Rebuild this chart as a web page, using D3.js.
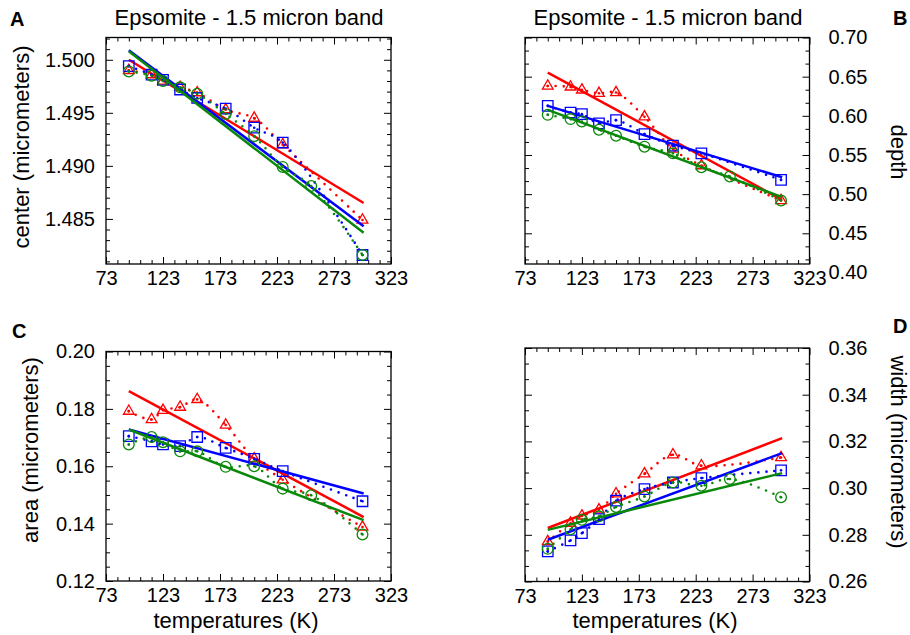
<!DOCTYPE html>
<html><head><meta charset="utf-8">
<script src="https://cdn.jsdelivr.net/npm/d3@7"></script>
<style>
body{margin:0;background:#fff;}
svg{display:block;font-family:"Liberation Sans",Arial,Helvetica,sans-serif;}
</style></head><body>
<svg id="chart" width="910" height="635"></svg>
<script>
// ---------------- DATA ----------------
const tempsGreen = [93, 113, 123, 138, 153, 178, 203, 228, 253, 298];
const tempsRedBlue = [93, 113, 123, 138, 153, 178, 203, 228, 298];
const fitTemps = [93, 299];

const centerRed   = [1.4990, 1.4986, 1.4980, 1.4974, 1.4969, 1.4953, 1.4945, 1.4920, 1.4849];
const centerBlue  = [1.4994, 1.4986, 1.4981, 1.4972, 1.4964, 1.4954, 1.4936, 1.4922, 1.4816];
const centerGreen = [1.4989, 1.4985, 1.4980, 1.4974, 1.4968, 1.4949, 1.4928, 1.4899, 1.4881, 1.4816];
const centerFitRed = [1.5000, 1.4865];
const centerFitBlue = [1.5009, 1.4843];
const centerFitGreen = [1.5008, 1.4837];

const depthRed   = [0.6381, 0.6369, 0.6331, 0.6288, 0.6297, 0.5987, 0.5576, 0.5364, 0.4919];
const depthBlue  = [0.6127, 0.6042, 0.6021, 0.5903, 0.5945, 0.5767, 0.5619, 0.5521, 0.5182];
const depthGreen = [0.6013, 0.5958, 0.5928, 0.5822, 0.5746, 0.5606, 0.5521, 0.5343, 0.5225, 0.4919];
const depthFitRed = [0.6551, 0.4928];
const depthFitBlue = [0.6127, 0.5216];
const depthFitGreen = [0.6076, 0.4962];

const areaRed   = [0.1792, 0.1763, 0.1795, 0.1806, 0.1833, 0.1744, 0.1626, 0.1553, 0.1388];
const areaBlue  = [0.1705, 0.1687, 0.1676, 0.1670, 0.1702, 0.1664, 0.1626, 0.1583, 0.1478];
const areaGreen = [0.1676, 0.1702, 0.1684, 0.1652, 0.1652, 0.1598, 0.1600, 0.1522, 0.1499, 0.1362];
const areaFitRed = [0.1862, 0.1423];
const areaFitBlue = [0.1728, 0.1505];
const areaFitGreen = [0.1728, 0.1412];

const widthRed   = [0.2771, 0.2850, 0.2881, 0.2907, 0.2976, 0.3061, 0.3143, 0.3096, 0.3131];
const widthBlue  = [0.2729, 0.2776, 0.2807, 0.2867, 0.2946, 0.2996, 0.3024, 0.3043, 0.3076];
const widthGreen = [0.2740, 0.2824, 0.2864, 0.2879, 0.2919, 0.2964, 0.3024, 0.3010, 0.3039, 0.2961];
const widthFitRed = [0.2829, 0.3214];
const widthFitBlue = [0.2779, 0.3150];
const widthFitGreen = [0.2821, 0.3064];

// tick labels
const xTickValues = [73, 123, 173, 223, 273, 323];
const centerTicks = [1.485, 1.490, 1.495, 1.500];
const depthTicks = [0.40, 0.45, 0.50, 0.55, 0.60, 0.65, 0.70];
const areaTicks = [0.12, 0.14, 0.16, 0.18, 0.20];
const widthTicks = [0.26, 0.28, 0.30, 0.32, 0.34, 0.36];

const titleText = "Epsomite - 1.5 micron band";
const xTitle = "temperatures (K)";

// ---------------- DRAW ----------------
const svg = d3.select("#chart");
const COL = {red: "#ff0000", blue: "#0000ff", green: "#0a880a"};
const xDomain = [73, 323];

const panels = [
  {id:"A", x0:106, x1:391, y0:37.5, y1:264, yDomain:[1.48075, 1.5021], ticks:centerTicks, fmt:".3f",
   minorBase:1.480, minorStep:0.001, side:"left",
   red:centerRed, blue:centerBlue, green:centerGreen,
   fr:centerFitRed, fb:centerFitBlue, fg:centerFitGreen},
  {id:"B", x0:525, x1:809.5, y0:37.5, y1:264, yDomain:[0.4108, 0.70], ticks:depthTicks, fmt:".2f",
   minorBase:0.40, minorStep:0.05/3, side:"right",
   red:depthRed, blue:depthBlue, green:depthGreen,
   fr:depthFitRed, fb:depthFitBlue, fg:depthFitGreen},
  {id:"C", x0:106, x1:391, y0:351.5, y1:581, yDomain:[0.12, 0.20], ticks:areaTicks, fmt:".2f",
   minorBase:0.12, minorStep:0.005, side:"left",
   red:areaRed, blue:areaBlue, green:areaGreen,
   fr:areaFitRed, fb:areaFitBlue, fg:areaFitGreen},
  {id:"D", x0:525, x1:809.5, y0:348, y1:581.5, yDomain:[0.26, 0.36], ticks:widthTicks, fmt:".2f",
   minorBase:0.26, minorStep:0.02/3, side:"right",
   red:widthRed, blue:widthBlue, green:widthGreen,
   fr:widthFitRed, fb:widthFitBlue, fg:widthFitGreen}
];

function styleAxis(sel, fontSize, dom) {
  sel.select(".domain").remove();
  sel.attr("font-family", null).attr("font-size", null);
  sel.selectAll("line").attr("stroke", "#000").attr("stroke-width", 1);
  sel.selectAll("text").attr("fill", "#000").style("font-size", fontSize + "px");
  if (dom) {
    sel.selectAll(".tick").filter(d => d < dom[0] - 1e-9 || d > dom[1] + 1e-9)
      .select("line").remove();
  }
}

panels.forEach(p => {
  const g = svg.append("g");
  const x = d3.scaleLinear().domain(xDomain).range([p.x0, p.x1]);
  const y = d3.scaleLinear().domain(p.yDomain).range([p.y1, p.y0]);

  const xMinor = d3.range(83, 323, 10).filter(v => !xTickValues.includes(v));
  const yMinor = [];
  for (let k = 1; k < 200; k++) {
    const v = p.minorBase + k * p.minorStep;
    if (v >= p.yDomain[1]) break;
    if (v <= p.yDomain[0]) continue;
    if (p.ticks.some(t => Math.abs(t - v) < p.minorStep / 10)) continue;
    yMinor.push(v);
  }
  const yMajorAll = p.ticks;

  // bottom
  g.append("g").attr("transform", `translate(0,${p.y1})`)
    .call(d3.axisBottom(x).tickValues(xTickValues).tickSize(-7).tickPadding(7).tickFormat(d3.format("d")))
    .call(s => styleAxis(s, 20));
  g.append("g").attr("transform", `translate(0,${p.y1})`)
    .call(d3.axisBottom(x).tickValues(xMinor).tickSize(-4).tickFormat(""))
    .call(s => styleAxis(s, 20));
  // top
  g.append("g").attr("transform", `translate(0,${p.y0})`)
    .call(d3.axisTop(x).tickValues(xTickValues).tickSize(-7).tickFormat(""))
    .call(s => styleAxis(s, 20));
  g.append("g").attr("transform", `translate(0,${p.y0})`)
    .call(d3.axisTop(x).tickValues(xMinor).tickSize(-4).tickFormat(""))
    .call(s => styleAxis(s, 20));
  // left / right
  const labLeft = p.side === "left";
  g.append("g").attr("transform", `translate(${p.x0},0)`)
    .call(d3.axisLeft(y).tickValues(yMajorAll).tickSize(-7).tickPadding(11)
      .tickFormat(labLeft ? d3.format(p.fmt) : ""))
    .call(s => styleAxis(s, 20, p.yDomain));
  g.append("g").attr("transform", `translate(${p.x0},0)`)
    .call(d3.axisLeft(y).tickValues(yMinor).tickSize(-4).tickFormat(""))
    .call(s => styleAxis(s, 20));
  g.append("g").attr("transform", `translate(${p.x1},0)`)
    .call(d3.axisRight(y).tickValues(yMajorAll).tickSize(-7).tickPadding(19)
      .tickFormat(labLeft ? "" : d3.format(p.fmt)))
    .call(s => styleAxis(s, 20, p.yDomain));
  g.append("g").attr("transform", `translate(${p.x1},0)`)
    .call(d3.axisRight(y).tickValues(yMinor).tickSize(-4).tickFormat(""))
    .call(s => styleAxis(s, 20));

  // frame
  g.append("rect").attr("x", p.x0).attr("y", p.y0)
    .attr("width", p.x1 - p.x0).attr("height", p.y1 - p.y0)
    .attr("fill", "none").attr("stroke", "#000").attr("stroke-width", 1.3);

  const series = [
    {c: COL.red, t: tempsRedBlue, v: p.red, f: p.fr, sym: d3.symbolTriangle, size: 50},
    {c: COL.blue, t: tempsRedBlue, v: p.blue, f: p.fb, sym: d3.symbolSquare, size: 110},
    {c: COL.green, t: tempsGreen, v: p.green, f: p.fg, sym: d3.symbolCircle, size: 90}
  ];

  const dotted = d3.line().x(d => x(d[0])).y(d => y(d[1])).curve(d3.curveCatmullRom.alpha(0.5));
  const straight = d3.line().x(d => x(d[0])).y(d => y(d[1]));

  series.forEach(s => {
    const pts = s.t.map((t, i) => [t, s.v[i]]);
    g.append("path").attr("d", dotted(pts)).attr("fill", "none")
      .attr("stroke", s.c).attr("stroke-width", 2.6)
      .attr("stroke-dasharray", "0,8").attr("stroke-linecap", "round");
    g.append("path").attr("d", straight(fitTemps.map((t, i) => [t, s.f[i]])))
      .attr("fill", "none").attr("stroke", s.c).attr("stroke-width", 2.5);
    g.selectAll(null).data(pts).enter().append("path")
      .attr("transform", d => `translate(${x(d[0])},${y(d[1])})`)
      .attr("d", d3.symbol(s.sym, s.size))
      .attr("fill", "none").attr("stroke", s.c).attr("stroke-width", 1.3);
    g.selectAll(null).data(pts).enter().append("circle")
      .attr("cx", d => x(d[0])).attr("cy", d => y(d[1])).attr("r", 1.3)
      .attr("fill", s.c);
  });
});

// texts
function txt(xp, yp, s, size, opts = {}) {
  const t = svg.append("text").attr("x", xp).attr("y", yp).text(s)
    .style("font-size", size + "px").attr("fill", "#000")
    .attr("text-anchor", opts.anchor || "middle");
  if (opts.bold) t.attr("font-weight", "bold");
  if (opts.rotate) t.attr("transform", `rotate(${opts.rotate},${xp},${yp})`);
  return t;
}
txt(249, 25, titleText, 22);
txt(668, 25, titleText, 22);
txt(10, 26, "A", 20, {anchor: "start", bold: true});
txt(893, 25, "B", 20, {anchor: "start", bold: true});
txt(12, 338, "C", 20, {anchor: "start", bold: true});
txt(893, 333, "D", 20, {anchor: "start", bold: true});
txt(29, 147, "center (micrometers)", 22, {rotate: -90});
txt(38, 450, "area (micrometers)", 22, {rotate: -90});
txt(891, 152, "depth", 22, {rotate: 90});
txt(891, 452, "width (micrometers)", 22, {rotate: 90});
txt(236, 628, xTitle, 22);
txt(655, 628, xTitle, 22);
</script>
</body></html>
